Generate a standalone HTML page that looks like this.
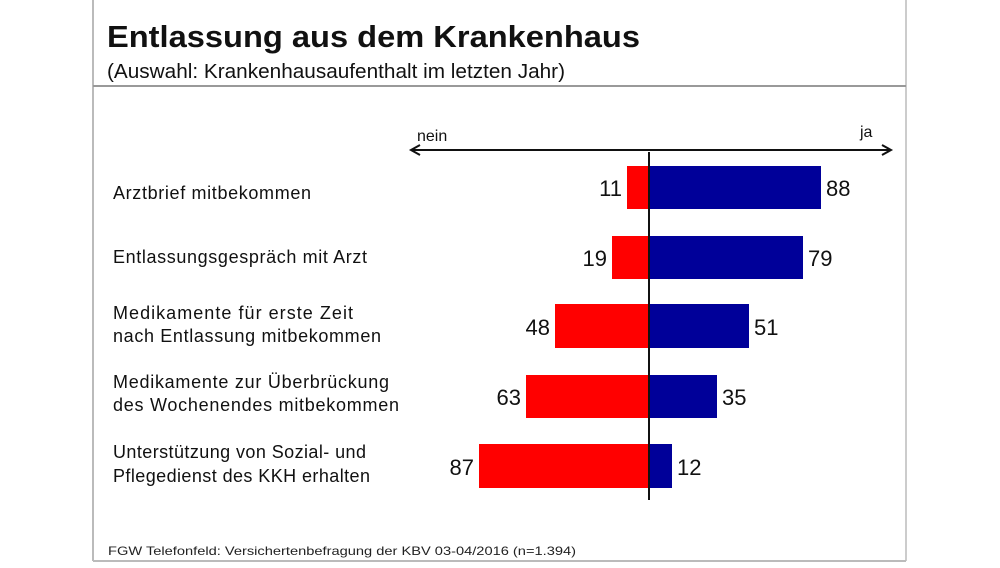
<!DOCTYPE html>
<html><head><meta charset="utf-8"><style>
body{margin:0;width:1000px;height:563px;background:#fff;overflow:hidden;font-family:"Liberation Sans",Arial,sans-serif;}
</style></head><body>
<svg width="1000" height="563" xmlns="http://www.w3.org/2000/svg" font-family="Liberation Sans, Arial, sans-serif">
<rect width="1000" height="563" fill="#fff"/>
<line x1="93" y1="0" x2="93" y2="561" stroke="#bbb" stroke-width="2"/>
<line x1="906" y1="0" x2="906" y2="561" stroke="#ccc" stroke-width="2"/>
<line x1="93" y1="86" x2="906" y2="86" stroke="#999" stroke-width="2"/>
<line x1="93" y1="561" x2="906" y2="561" stroke="#bbb" stroke-width="2"/>
<text x="107" y="47" font-size="31" font-weight="bold" fill="#111" textLength="533" lengthAdjust="spacingAndGlyphs">Entlassung aus dem Krankenhaus</text>
<text x="107" y="78" font-size="20" fill="#111" textLength="458" lengthAdjust="spacingAndGlyphs">(Auswahl: Krankenhausaufenthalt im letzten Jahr)</text>
<text x="417" y="141" font-size="16" fill="#111">nein</text>
<text x="860" y="137" font-size="16" fill="#111">ja</text>
<line x1="412" y1="150" x2="890" y2="150" stroke="#111" stroke-width="2"/>
<path d="M420 145 L411 150 L420 155" fill="none" stroke="#111" stroke-width="2"/>
<path d="M882 145 L891 150 L882 155" fill="none" stroke="#111" stroke-width="2"/>
<g fill="#ff0000">
<rect x="627" y="166" width="22" height="43"/>
<rect x="612" y="236" width="37" height="43"/>
<rect x="555" y="304" width="94" height="44"/>
<rect x="526" y="375" width="123" height="43"/>
<rect x="479" y="444" width="170" height="44"/>
</g>
<g fill="#000099">
<rect x="649" y="166" width="172" height="43"/>
<rect x="649" y="236" width="154" height="43"/>
<rect x="649" y="304" width="100" height="44"/>
<rect x="649" y="375" width="68" height="43"/>
<rect x="649" y="444" width="23" height="44"/>
</g>
<line x1="649" y1="152" x2="649" y2="500" stroke="#111" stroke-width="2"/>
<g font-size="22" fill="#111">
<text x="622" y="196" text-anchor="end">11</text><text x="826" y="196">88</text>
<text x="607" y="266" text-anchor="end">19</text><text x="808" y="266">79</text>
<text x="550" y="335" text-anchor="end">48</text><text x="754" y="335">51</text>
<text x="521" y="405" text-anchor="end">63</text><text x="722" y="405">35</text>
<text x="474" y="475" text-anchor="end">87</text><text x="677" y="475">12</text>
</g>
<g font-size="18" fill="#111" lengthAdjust="spacingAndGlyphs">
<text x="113" y="199" textLength="198">Arztbrief mitbekommen</text>
<text x="113" y="263" textLength="254">Entlassungsgespräch mit Arzt</text>
<text x="113" y="319" textLength="240">Medikamente für erste Zeit</text>
<text x="113" y="342" textLength="268">nach Entlassung mitbekommen</text>
<text x="113" y="388" textLength="276">Medikamente zur Überbrückung</text>
<text x="113" y="411" textLength="286">des Wochenendes mitbekommen</text>
<text x="113" y="458" textLength="253">Unterstützung von Sozial- und</text>
<text x="113" y="482" textLength="257">Pflegedienst des KKH erhalten</text>
</g>
<text x="108" y="555" font-size="12" fill="#222" textLength="468" lengthAdjust="spacingAndGlyphs">FGW Telefonfeld: Versichertenbefragung der KBV 03-04/2016 (n=1.394)</text>
</svg>
</body></html>
